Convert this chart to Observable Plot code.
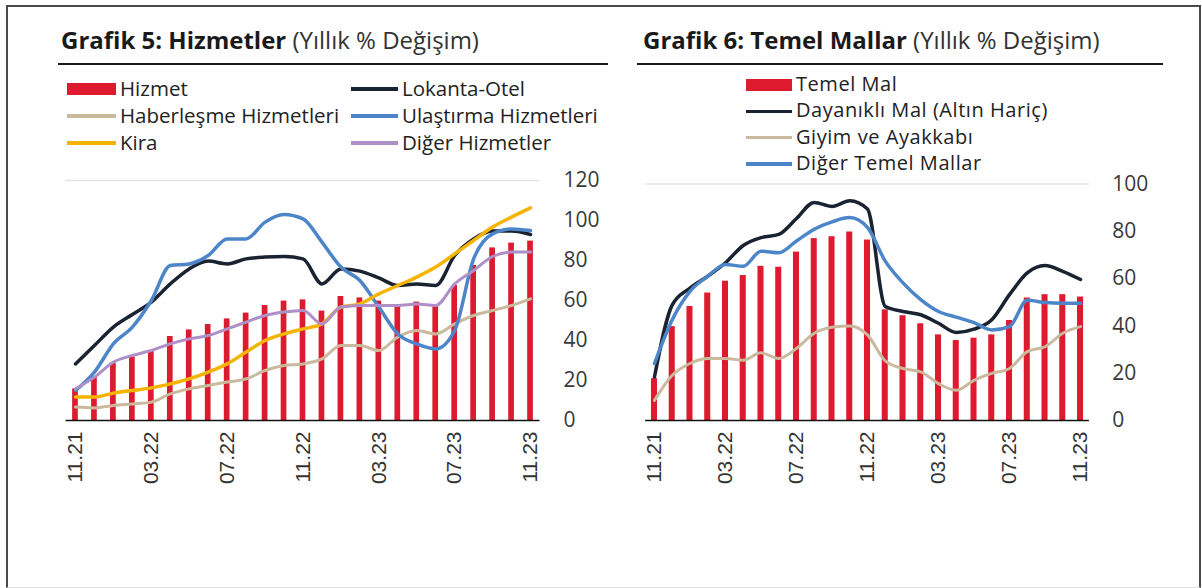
<!DOCTYPE html>
<html>
<head>
<meta charset="utf-8">
<script src="https://cdn.jsdelivr.net/npm/d3@7"></script>
<script src="https://cdn.jsdelivr.net/npm/@observablehq/plot@0.6"></script>
<style>
  html, body { margin: 0; padding: 0; background: #fff; }
  #root { position: relative; width: 1202px; height: 588px; overflow: hidden; font-family: "Open Sans", sans-serif; color: #1a1a1a; }
  .frame { position: absolute; left: 6px; top: 5px; width: 1195px; height: 583px; box-sizing: border-box; border: 2px solid #4a4a4a; border-bottom: 1px solid #ddd; }
  .title { position: absolute; font-size: 24px; line-height: 1; white-space: nowrap; color: #1a1a1a; }
  .title b { font-weight: 700; }
  .title span { font-weight: 400; color: #333; }
  .hr { position: absolute; height: 2px; background: #1a1a1a; }
  .leg { position: absolute; white-space: nowrap; color: #222; line-height: 1; }
  .sw { position: absolute; }
  .plot { position: absolute; }
</style>
</head>
<body>
<div id="root"></div>
<script>
// ---- Data ----
const months = ["11.21","12.21","01.22","02.22","03.22","04.22","05.22","06.22","07.22","08.22","09.22","10.22",
                "11.22","12.22","01.23","02.23","03.23","04.23","05.23","06.23","07.23","08.23","09.23","10.23","11.23"];
const tickMonths = ["11.21","03.22","07.22","11.22","03.23","07.23","11.23"];

// Grafik 5: Hizmetler
const hizmet     = [15.8,21.7,28.7,31.7,35,42,45.3,48,50.8,53.7,57.5,59.7,60.3,54.7,62,61.3,59.7,56.7,59.2,57,67.5,77.5,86.3,88.7,89.7];
const lokanta    = [28.3,37.5,46.7,53,59.2,68.3,75.8,79.7,78.3,80.8,81.7,82,80.8,68.3,75.8,74.7,71.3,67.5,68.3,67.5,82.5,90.8,94.7,94.7,93];
const haberlesme = [6.7,6.3,7.5,8.3,9.2,13.3,15.8,17.5,19.2,20.8,25,27.5,28.3,30.8,37.5,37.5,35,41.7,45,43.3,48.3,52.5,55,57.5,60.8];
const ulastirma  = [15,24.2,38.3,46.7,60,77.5,78.3,82.5,90.8,90.8,99.2,103,100.8,89.2,76.7,70,56.7,43.3,38.3,35.8,45,80.8,93.3,95.8,95];
const kira       = [11.7,11.7,13.7,15,16.3,18.3,20.8,24.2,28.3,34.2,40,43.3,45.8,48.3,56.7,58.3,63.3,67.5,71.7,76.7,83.3,90,96.7,101.7,106.3];
const digerHiz   = [15.8,21.7,29.2,32.5,35,38.3,40.8,42.5,45.8,49.2,52.5,54.2,55,48.3,56.7,57.5,57.5,57.5,58.3,57.5,68.3,75,82,84.2,84.2];
const leftTicks  = [0,20,40,60,80,100,120];

// Grafik 6: Temel Mallar
const temelMal   = [17.7,39.7,48.2,53.9,58.9,61.3,65.2,64.8,71.2,76.9,77.7,79.7,76.3,46.8,44.3,40.9,36.2,33.8,34.8,36.2,42.3,51.8,53.2,53.2,52.2];
const dayanikli  = [18.4,48.9,56,61,66.7,74,77.3,78.7,85.4,92.2,90.5,92.9,89.4,48.2,46.1,44.7,41.1,37.2,38.6,42.6,53.2,62.4,65.5,63.1,59.6];
const giyim      = [8.5,19.1,24.1,26.2,26.2,25.5,28.6,26.2,30.5,36.9,39.4,40,36.2,25.2,22,20.6,15.6,12.8,17,19.9,22,29.1,31.2,36.9,39.7];
const digerTemel = [24.1,42.6,54.6,61,66,65.2,71.6,70.9,75.9,80.9,84,85.8,81.6,67.4,58.2,51.1,46.1,43.7,41.4,38.3,39.7,50.8,49.9,49.6,49.6];
const rightTicks = [0,20,40,60,80,100];

// ---- Colours ----
const C = {
  red: "#dd1a2e", navy: "#1a2331", blue: "#4d86c8", tan: "#cbb99d",
  yellow: "#f6b400", purple: "#ae8fc7"
};

const root = document.getElementById("root");
function el(tag, cls, style, html) {
  const e = document.createElement(tag);
  if (cls) e.className = cls;
  Object.assign(e.style, style || {});
  if (html != null) e.innerHTML = html;
  root.appendChild(e);
  return e;
}

el("div", "frame");

// Titles
el("div", "title", {left: "61px", top: "28px"}, "<b>Grafik 5: Hizmetler</b> <span>(Yıllık % Değişim)</span>");
el("div", "hr", {left: "58px", top: "63px", width: "550px"});
el("div", "title", {left: "643px", top: "28px"}, "<b>Grafik 6: Temel Mallar</b> <span>(Yıllık % Değişim)</span>");
el("div", "hr", {left: "637px", top: "63px", width: "526px"});

// Legends
function legend(items, fs, ls) {
  for (const it of items) {
    const h = it.bar ? 12 : 3.5;
    el("div", "sw", {left: it.x + "px", top: (it.y - h / 2) + "px", width: it.w + "px", height: h + "px", background: it.color});
    el("div", "leg", {left: (it.x + it.w + 4) + "px", top: (it.y - fs / 2 - 1) + "px", fontSize: fs + "px", letterSpacing: (ls || 0) + "px"}, it.label);
  }
}
legend([
  {label: "Hizmet", color: C.red, bar: true, x: 67, y: 89, w: 49},
  {label: "Haberleşme Hizmetleri", color: C.tan, x: 67, y: 116, w: 49},
  {label: "Kira", color: C.yellow, x: 67, y: 143, w: 49},
  {label: "Lokanta-Otel", color: C.navy, x: 351, y: 89, w: 47},
  {label: "Ulaştırma Hizmetleri", color: C.blue, x: 351, y: 116, w: 47},
  {label: "Diğer Hizmetler", color: C.purple, x: 351, y: 143, w: 47}
], 20.5, 0);
legend([
  {label: "Temel Mal", color: C.red, bar: true, x: 746, y: 85, w: 46},
  {label: "Dayanıklı Mal (Altın Hariç)", color: C.navy, x: 746, y: 111.3, w: 46},
  {label: "Giyim ve Ayakkabı", color: C.tan, x: 746, y: 137.6, w: 46},
  {label: "Diğer Temel Mallar", color: C.blue, x: 746, y: 164, w: 46}
], 20, 0.55);

const rows = arr => arr.map((v, i) => ({month: months[i], value: v}));

function chart({bars, lines, yMax, yTicks, width, height, mt, mb, ml, mr, pad, ypad}) {
  const marks = [
    Plot.ruleY([yMax], {stroke: "#e4e4e4", strokeWidth: 1.5}),
    Plot.barY(rows(bars), {x: "month", y: "value", fill: C.red}),
  ];
  for (const l of lines) {
    marks.push(Plot.line(rows(l.values), {x: "month", y: "value", stroke: l.color, strokeWidth: l.w, curve: "monotone-x"}));
  }
  marks.push(Plot.ruleY([0], {stroke: "#111", strokeWidth: 1.5}));
  marks.push(Plot.axisY({anchor: "right", ticks: yTicks, tickSize: 0, tickPadding: ypad, fontSize: 21, fill: "#3a3a3a", fontFamily: "Open Sans"}));
  marks.push(Plot.axisX({ticks: tickMonths, tickRotate: -90, tickSize: 0, tickPadding: 11, fontSize: 21, fill: "#333", fontFamily: "Liberation Sans, Arial"}));
  return Plot.plot({
    width, height,
    marginTop: mt, marginBottom: mb, marginLeft: ml, marginRight: mr,
    x: {type: "band", domain: months, paddingInner: pad, paddingOuter: pad / 2, round: false, label: null},
    y: {domain: [0, yMax], label: null},
    style: {background: "transparent", overflow: "visible"},
    marks
  });
}

const left = chart({
  bars: hizmet,
  lines: [
    {values: lokanta, color: C.navy, w: 3.5},
    {values: haberlesme, color: C.tan, w: 3},
    {values: ulastirma, color: C.blue, w: 3.5},
    {values: kira, color: C.yellow, w: 3.5},
    {values: digerHiz, color: C.purple, w: 3}
  ],
  yMax: 120, yTicks: leftTicks,
  width: 610, height: 340, mt: 10, mb: 90, ml: 65.5, mr: 70.5, pad: 0.7, ypad: 23.5
});
left.classList.add("plot");
Object.assign(left.style, {left: "0px", top: "170px"});
root.appendChild(left);

const right = chart({
  bars: temelMal,
  lines: [
    {values: dayanikli, color: C.navy, w: 3.5},
    {values: giyim, color: C.tan, w: 3},
    {values: digerTemel, color: C.blue, w: 3.5}
  ],
  yMax: 100, yTicks: rightTicks,
  width: 592, height: 340, mt: 13.5, mb: 90, ml: 35.1, mr: 113.1, pad: 0.66, ypad: 22.8
});
right.classList.add("plot");
Object.assign(right.style, {left: "610px", top: "170px"});
root.appendChild(right);
</script>
</body>
</html>
